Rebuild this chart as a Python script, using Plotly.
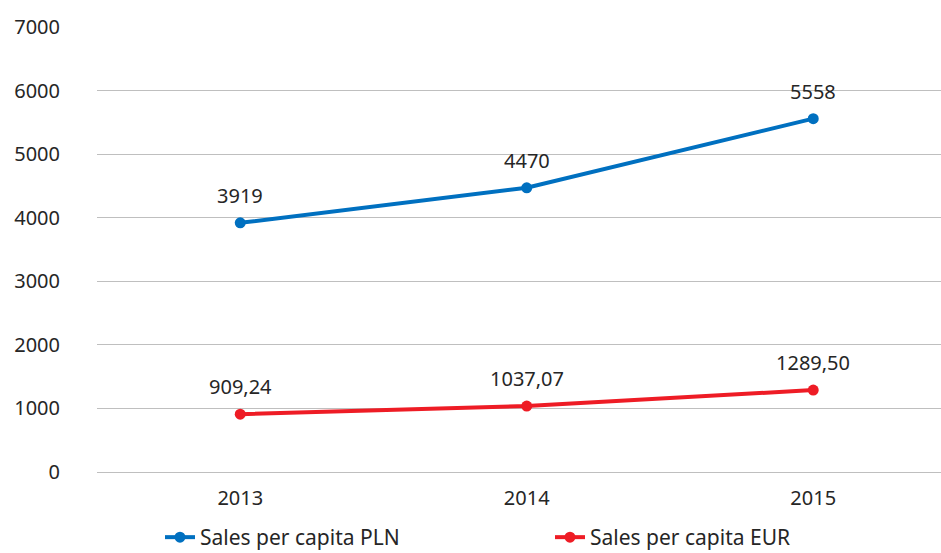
import plotly.graph_objects as go

years = ["2013", "2014", "2015"]
sales_pln = [3919, 4470, 5558]
sales_eur = [909.24, 1037.07, 1289.50]
y_ticks = [0, 1000, 2000, 3000, 4000, 5000, 6000, 7000]

FONT = "Noto Sans"
TEXT = "#262626"
BLUE = "#0070C0"
RED = "#EE1C25"
GRID = "#BFBFBF"

fig = go.Figure()
fig.add_trace(go.Scatter(
    x=years, y=sales_pln, mode="lines+markers", name="Sales per capita PLN",
    line=dict(color=BLUE, width=4), marker=dict(size=11, color=BLUE),
    legend="legend",
))
fig.add_trace(go.Scatter(
    x=years, y=sales_eur, mode="lines+markers", name="Sales per capita EUR",
    line=dict(color=RED, width=4), marker=dict(size=11, color=RED),
    legend="legend2",
))

# value labels above each point (x given as category index)
for i, v in enumerate(sales_pln):
    fig.add_annotation(x=i, y=v, xref="x", yref="y", text=f"{v:d}", showarrow=False,
                       yshift=27, font=dict(family=FONT, size=20, color=TEXT))
for i, v in enumerate(sales_eur):
    fig.add_annotation(x=i, y=v, xref="x", yref="y", text=f"{v:.2f}".replace(".", ","),
                       showarrow=False, yshift=28,
                       font=dict(family=FONT, size=20, color=TEXT))

legend_style = dict(orientation="h", xref="container", yref="container",
                    xanchor="left", y=1 - 517 / 553, yanchor="top",
                    bgcolor="rgba(0,0,0,0)",
                    font=dict(family=FONT, size=21, color=TEXT))

fig.update_layout(
    width=941, height=553,
    margin=dict(l=97, r=0, t=26, b=81, autoexpand=False),
    paper_bgcolor="white", plot_bgcolor="white",
    font=dict(family=FONT, size=20, color=TEXT),
    showlegend=True,
    legend=dict(x=160 / 941, **legend_style),
    legend2=dict(x=550 / 941, **legend_style),
    xaxis=dict(type="category", range=[-0.5, 2.446], showgrid=False, showline=True,
               linecolor=GRID, linewidth=1, ticks="", ticklabelstandoff=8,
               automargin=False,
               tickfont=dict(family=FONT, size=20, color=TEXT)),
    yaxis=dict(range=[0, 7015], tickvals=y_ticks, showgrid=True, gridcolor=GRID,
               gridwidth=1, zeroline=False, showline=False, ticks="",
               ticklabelstandoff=36, automargin=False,
               tickfont=dict(family=FONT, size=20, color=TEXT)),
)

fig.write_html("out.html")
